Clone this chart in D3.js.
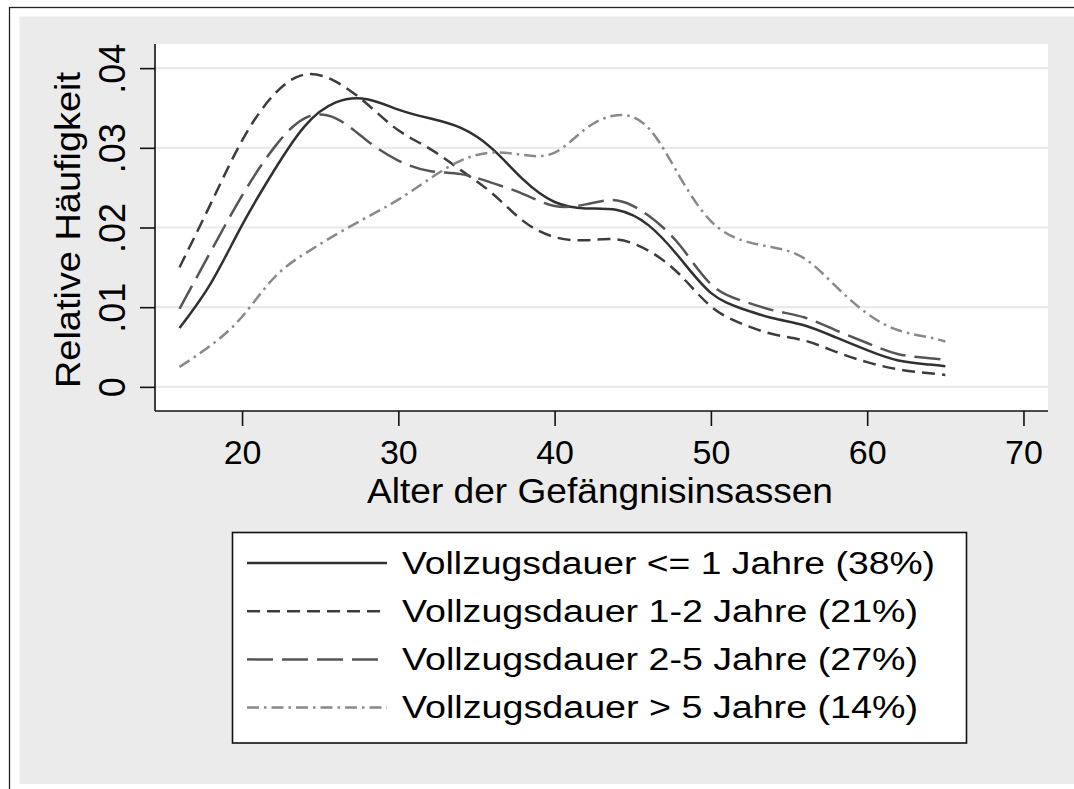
<!DOCTYPE html>
<html>
<head>
    <meta charset="utf-8" />
    <title>Alter der Gefängnisinsassen</title>
    <style>
    	body { margin: 0; background: #fff; }
    	text { font-family: "Liberation Sans", Arial, Helvetica, sans-serif; }
    </style>
</head>
<body>
<script src="https://cdn.jsdelivr.net/npm/d3@7/dist/d3.min.js"></script>
<script>

	var ages = [16, 18, 20, 22, 24, 26, 28, 30, 32, 34, 36, 38, 40, 42, 44, 46, 48, 50, 52, 54, 56, 58, 60, 62, 64, 65];

	var bis1 = [0.0074, 0.0130, 0.0203, 0.0270, 0.0327, 0.0357, 0.0361, 0.0348, 0.0337, 0.0325, 0.0299, 0.0260, 0.0232, 0.0224, 0.0222, 0.0203, 0.0162, 0.0118, 0.0098, 0.0086, 0.0077, 0.0062, 0.0046, 0.0033, 0.0028, 0.0026];
	var bis2 = [0.0150, 0.0230, 0.0309, 0.0366, 0.0392, 0.0383, 0.0355, 0.0322, 0.0299, 0.0272, 0.0243, 0.0208, 0.0188, 0.0184, 0.0185, 0.0171, 0.0141, 0.0101, 0.0079, 0.0066, 0.0058, 0.0044, 0.0031, 0.0022, 0.0017, 0.0015];
	var bis5 = [0.0098, 0.0170, 0.0240, 0.0299, 0.0337, 0.0337, 0.0309, 0.0284, 0.0271, 0.0267, 0.0256, 0.0242, 0.0227, 0.0229, 0.0234, 0.0215, 0.0178, 0.0129, 0.0108, 0.0096, 0.0087, 0.0071, 0.0055, 0.0041, 0.0036, 0.0034];
	var ueber5 = [0.0025, 0.0052, 0.0088, 0.0136, 0.0167, 0.0191, 0.0213, 0.0235, 0.0261, 0.0284, 0.0294, 0.0291, 0.0294, 0.0324, 0.0341, 0.0325, 0.0264, 0.0208, 0.0184, 0.0175, 0.0161, 0.0126, 0.0092, 0.0071, 0.0062, 0.0057];

	var seriesNames = ["Vollzugsdauer <= 1 Jahre (38%)",
					   "Vollzugsdauer 1-2 Jahre (21%)",
					   "Vollzugsdauer 2-5 Jahre (27%)",
					   "Vollzugsdauer > 5 Jahre (14%)"];

	var xTicks = [20, 30, 40, 50, 60, 70];
	var yTicks = [0, 0.01, 0.02, 0.03, 0.04];

	var series = [bis1, bis2, bis5, ueber5];
	var styles = [{"color": "#303030", "dash": null},
				  {"color": "#3c3c3c", "dash": "13,7"},
				  {"color": "#555555", "dash": "26,9"},
				  {"color": "#898989", "dash": "12,5,2.5,5"}];

	var width = 1074;
	var height = 789;
	var plot = {"left": 155, "right": 1048, "top": 44, "bottom": 411};

	var svg = d3.select("body").append("svg")
				.attr("width", width)
				.attr("height", height);

	// aeusserer Rahmen und grauer Hintergrund
	svg.append("rect")
	   .attr("x", 9.5).attr("y", 7.5)
	   .attr("width", width).attr("height", height)
	   .attr("fill", "#fff")
	   .attr("stroke", "#222")
	   .attr("stroke-width", 1.3);

	svg.append("rect")
	   .attr("x", 19.5).attr("y", 16.5)
	   .attr("width", width).attr("height", 784 - 16.5)
	   .attr("fill", "#ebebeb");

	svg.append("rect")
	   .attr("x", plot.left).attr("y", plot.top)
	   .attr("width", plot.right - plot.left)
	   .attr("height", plot.bottom - plot.top)
	   .attr("fill", "#fff");

	var xScaler = d3.scaleLinear()
					.domain([14.43, 71.57])
					.range([plot.left, plot.right]);

	var yScaler = d3.scaleLinear()
					.domain([-0.00303, 0.04303])
					.range([plot.bottom, plot.top]);

	// Gitterlinien
	svg.append("g").selectAll("line")
	   .data(yTicks)
	   .enter()
	   .append("line")
	   .attr("x1", plot.left)
	   .attr("x2", plot.right)
	   .attr("y1", d => yScaler(d))
	   .attr("y2", d => yScaler(d))
	   .style("stroke", "#eaeaea")
	   .style("stroke-width", 2.2);

	// Kurven
	var line = d3.line()
				 .x((d, i) => xScaler(ages[i]))
				 .y(d => yScaler(d))
				 .curve(d3.curveNatural);

	svg.append("g").selectAll("path")
	   .data(series)
	   .enter()
	   .append("path")
	   .attr("d", d => line(d))
	   .attr("fill", "none")
	   .style("stroke", (d, i) => styles[i].color)
	   .style("stroke-width", 2.5)
	   .style("stroke-dasharray", (d, i) => styles[i].dash);

	// Achsen
	var xAxis = d3.axisBottom(xScaler)
				  .tickValues(xTicks)
				  .tickSize(15)
				  .tickPadding(14)
				  .tickSizeOuter(0);

	var xAxisView = svg.append("g")
					   .attr("transform", "translate(0," + plot.bottom + ")")
					   .call(xAxis);
	xAxisView.select(".domain").attr("d", "M" + plot.left + ",0H" + plot.right);
	xAxisView.selectAll("line, path").style("stroke", "#111").style("stroke-width", 1.6);
	xAxisView.selectAll("text")
			 .attr("fill", "#000")
			 .style("font-size", "34px")
			 .style("font-family", "Liberation Sans, Arial, sans-serif");

	var yAxis = d3.axisLeft(yScaler)
				  .tickValues(yTicks)
				  .tickSize(15)
				  .tickFormat(d => d === 0 ? "0" : d3.format(".2f")(d).replace(/^0/, ""))
				  .tickSizeOuter(0);

	var yAxisView = svg.append("g")
					   .attr("transform", "translate(" + plot.left + ",0)")
					   .call(yAxis);
	yAxisView.select(".domain").attr("d", "M0," + plot.top + "V" + plot.bottom);
	yAxisView.selectAll("line, path").style("stroke", "#111").style("stroke-width", 1.6);
	yAxisView.selectAll("text")
			 .attr("x", null)
			 .attr("dy", null)
			 .attr("transform", "translate(-30,0) rotate(-90)")
			 .style("text-anchor", "middle")
			 .attr("fill", "#000")
			 .style("font-size", "36px")
			 .style("font-family", "Liberation Sans, Arial, sans-serif");

	// Achsentitel
	svg.append("text")
	   .attr("x", 600)
	   .attr("y", 503)
	   .style("text-anchor", "middle")
	   .style("font-size", "35px")
	   .attr("textLength", 466)
	   .attr("lengthAdjust", "spacingAndGlyphs")
	   .text("Alter der Gefängnisinsassen");

	svg.append("text")
	   .attr("transform", "translate(80,230) rotate(-90)")
	   .style("text-anchor", "middle")
	   .style("font-size", "35px")
	   .attr("textLength", 316)
	   .attr("lengthAdjust", "spacingAndGlyphs")
	   .text("Relative Häufigkeit");

	// Legende
	var legend = svg.append("g");
	legend.append("rect")
		  .attr("x", 232.5).attr("y", 532.5)
		  .attr("width", 734).attr("height", 210.5)
		  .attr("fill", "#fff")
		  .style("stroke", "#111")
		  .style("stroke-width", 1.6);

	var legendWidths = [533, 516, 516, 516];
	var rows = legend.selectAll("g.row")
					 .data(seriesNames)
					 .enter()
					 .append("g")
					 .attr("class", "row")
					 .attr("transform", (d, i) => "translate(0," + (573.5 + i * 48.2) + ")");

	rows.append("line")
		.attr("x1", 247).attr("x2", 387)
		.attr("y1", -10.5).attr("y2", -10.5)
		.style("stroke", (d, i) => styles[i].color)
		.style("stroke-width", 2.5)
		.style("stroke-dasharray", (d, i) => styles[i].dash);

	rows.append("text")
		.attr("x", 402)
		.attr("y", 0)
		.style("font-size", "31px")
		.attr("textLength", (d, i) => legendWidths[i])
		.attr("lengthAdjust", "spacingAndGlyphs")
		.text(d => d);

</script>
</body>
</html>
